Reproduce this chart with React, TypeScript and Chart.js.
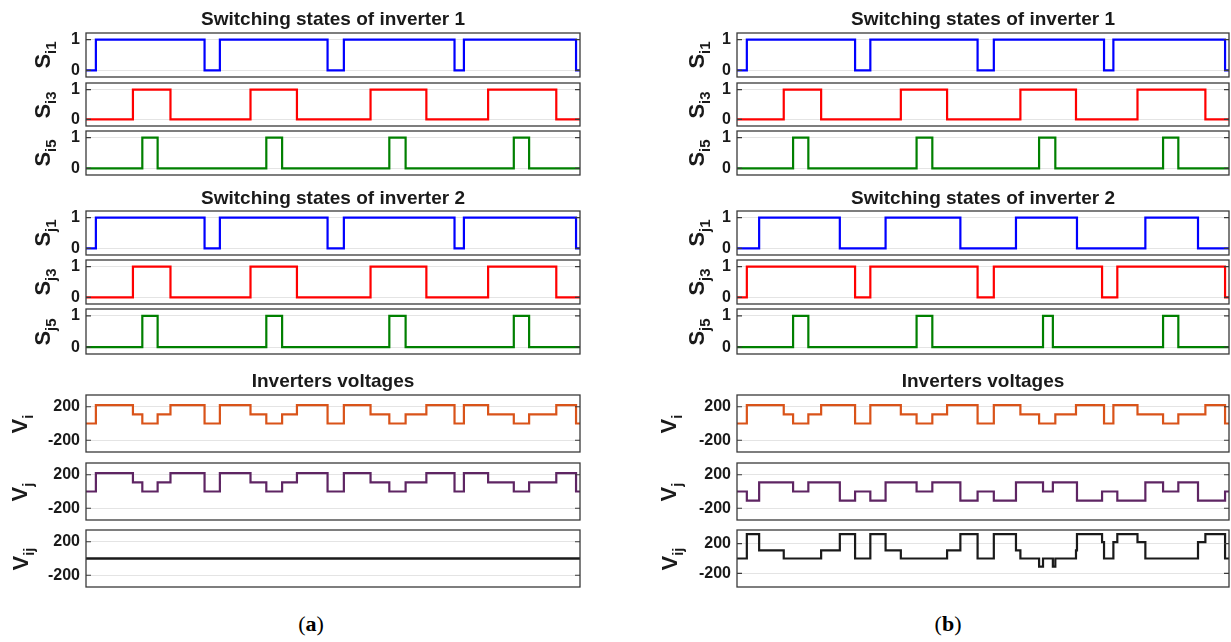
import React, { useEffect, useRef } from 'react';
import { Chart, registerables } from 'chart.js';

Chart.register(...registerables);

// ---------------- DATA (time in % of the displayed window) ----------------
const X_END = 100;

// Inverter 1 switching states (same in (a) and (b))
const tSi1 = [0, 2.0, 24.0, 27.1, 48.9, 52.2, 74.6, 76.5, 99.2];
const sSi1 = [0, 1, 0, 1, 0, 1, 0, 1, 0];
const tSi3 = [0, 9.5, 17.1, 33.3, 42.7, 57.6, 68.9, 81.4, 95.2];
const sSi3 = [0, 1, 0, 1, 0, 1, 0, 1, 0];
const tSi5 = [0, 11.4, 14.5, 36.5, 39.7, 61.4, 64.7, 86.6, 89.7];
const sSi5 = [0, 1, 0, 1, 0, 1, 0, 1, 0];

// Inverter 2 switching states, case (a)
const tSj1A = [0, 2.0, 24.0, 27.1, 48.9, 52.2, 74.6, 76.5, 99.2];
const sSj1A = [0, 1, 0, 1, 0, 1, 0, 1, 0];
const tSj3A = [0, 9.5, 17.1, 33.3, 42.7, 57.6, 68.9, 81.4, 95.2];
const sSj3A = [0, 1, 0, 1, 0, 1, 0, 1, 0];
const tSj5A = [0, 11.4, 14.5, 36.5, 39.7, 61.4, 64.7, 86.6, 89.7];
const sSj5A = [0, 1, 0, 1, 0, 1, 0, 1, 0];

// Inverter 2 switching states, case (b)
const tSj1B = [0, 4.5, 20.9, 30.2, 45.4, 56.7, 69.1, 83.0, 93.7];
const sSj1B = [0, 1, 0, 1, 0, 1, 0, 1, 0];
const tSj3B = [0, 2.0, 24.0, 27.1, 48.9, 52.2, 74.2, 77.3, 99.2];
const sSj3B = [0, 1, 0, 1, 0, 1, 0, 1, 0];
const tSj5B = [0, 11.4, 14.5, 36.5, 39.7, 62.2, 64.2, 86.6, 89.7];
const sSj5B = [0, 1, 0, 1, 0, 1, 0, 1, 0];

// Inverter 1 voltage (same in (a) and (b))
const tVi = [0, 2.0, 9.5, 11.4, 14.5, 17.1, 24.0, 27.1, 33.3, 36.5, 39.7, 42.7, 48.9, 52.2, 57.6, 61.4, 64.7, 68.9, 74.6, 76.5, 81.4, 86.6, 89.7, 95.2, 99.2];
const vVi = [0, 220, 110, 0, 110, 220, 0, 220, 110, 0, 110, 220, 0, 220, 110, 0, 110, 220, 0, 220, 110, 0, 110, 220, 0];

// Inverter 2 voltage, case (a)
const tVjA = [0, 2.0, 9.5, 11.4, 14.5, 17.1, 24.0, 27.1, 33.3, 36.5, 39.7, 42.7, 48.9, 52.2, 57.6, 61.4, 64.7, 68.9, 74.6, 76.5, 81.4, 86.6, 89.7, 95.2, 99.2];
const vVjA = [0, 220, 110, 0, 110, 220, 0, 220, 110, 0, 110, 220, 0, 220, 110, 0, 110, 220, 0, 220, 110, 0, 110, 220, 0];

// Inverter 2 voltage, case (b)
const tVjB = [0, 2.0, 4.5, 11.4, 14.5, 20.9, 24.0, 27.1, 30.2, 36.5, 39.7, 45.4, 48.9, 52.2, 56.7, 62.2, 64.2, 69.1, 74.2, 77.3, 83.0, 86.6, 89.7, 93.7, 99.2];
const vVjB = [0, -110, 110, 0, 110, -110, 0, -110, 110, 0, 110, -110, 0, -110, 110, 0, 110, -110, 0, -110, 110, 0, 110, -110, 0];

// Difference voltage
const tVijA = [0];
const vVijA = [0];
const tVijB = [0, 2.0, 4.5, 9.5, 17.1, 20.9, 24.0, 27.1, 30.2, 33.3, 42.7, 45.4, 48.9, 52.2, 56.7, 57.6, 61.4, 62.2, 64.2, 64.7, 68.9, 69.1, 74.2, 74.6, 76.5, 77.3, 81.4, 83.0, 93.7, 95.2, 99.2];
const vVijB = [0, 330, 110, 0, 110, 330, 0, 330, 110, 0, 110, 330, 0, 330, 110, 0, -110, 0, -110, 0, 110, 330, 220, 0, 220, 330, 220, 0, 220, 330, 0];

// Axis settings
const swRange = [-0.22, 1.22];
const swTicks = [0, 1];
const vRange = [-340, 340];
const vijRangeB = [-385, 385];
const vTicks = [-200, 200];

// Text
const title1 = 'Switching states of inverter 1';
const title2 = 'Switching states of inverter 2';
const title3 = 'Inverters voltages';

// ---------------- LAYOUT ----------------
const AXW = 70;
const PADT = 16;
const PADR = 4;
const COLS = { a: { l: 86, r: 580 }, b: { l: 737, r: 1229 } };
const ROWS = {
  s1: [33, 77], s3: [83, 126], s5: [131, 175],
  j1: [211, 255], j3: [260, 304], j5: [309, 354],
  vi: [395, 452], vj: [463, 520], vij: [530, 587],
};

const C_BLUE = '#0000ff';
const C_RED = '#ff0000';
const C_GREEN = '#008000';
const C_VI = '#d95319';
const C_VJ = '#5e2563';
const C_VIJ = '#1a1a1a';
const FONT = '"Liberation Sans", Arial, Helvetica, sans-serif';

function steps(t: number[], v: number[]) {
  const pts = t.map((x, i) => ({ x, y: v[i] }));
  pts.push({ x: X_END, y: v[v.length - 1] });
  return pts;
}

const framePlugin = {
  id: 'matlabFrame',
  afterDraw(chart: any) {
    const { ctx, chartArea: a, scales } = chart;
    const y = scales.y;
    ctx.save();
    ctx.strokeStyle = '#3a3a3a';
    ctx.lineWidth = 1.3;
    ctx.strokeRect(a.left, a.top, a.right - a.left, a.bottom - a.top);
    ctx.lineWidth = 1.2;
    ctx.beginPath();
    y.ticks.forEach((tk: any) => {
      const py = y.getPixelForValue(tk.value);
      ctx.moveTo(a.left, py);
      ctx.lineTo(a.left + 5, py);
      ctx.moveTo(a.right, py);
      ctx.lineTo(a.right - 5, py);
    });
    ctx.stroke();
    ctx.restore();
  },
};

type PanelProps = {
  col: 'a' | 'b';
  row: keyof typeof ROWS;
  t: number[];
  v: number[];
  color: string;
  range: number[];
  ticks: number[];
  width?: number;
};

function Panel({ col, row, t, v, color, range, ticks, width = 2.2 }: PanelProps) {
  const ref = useRef<HTMLCanvasElement | null>(null);
  const { l, r } = COLS[col];
  const [top, bottom] = ROWS[row];
  const cw = AXW + (r - l) + PADR;
  const ch = PADT * 2 + (bottom - top);
  useEffect(() => {
    if (!ref.current) return;
    const chart = new Chart(ref.current, {
      type: 'line',
      data: {
        datasets: [
          {
            data: steps(t, v),
            borderColor: color,
            borderWidth: width,
            pointRadius: 0,
            stepped: 'before',
            fill: false,
            tension: 0,
          } as any,
        ],
      },
      options: {
        responsive: false,
        animation: false,
        events: [],
        layout: { padding: { left: 0, right: PADR, top: PADT, bottom: PADT } },
        plugins: { legend: { display: false }, tooltip: { enabled: false } },
        scales: {
          x: { type: 'linear', min: 0, max: X_END, display: false },
          y: {
            type: 'linear',
            min: range[0],
            max: range[1],
            afterBuildTicks: (ax: any) => {
              ax.ticks = ticks.map((value) => ({ value }));
            },
            afterFit: (ax: any) => {
              ax.width = AXW;
            },
            grid: { color: '#e4e4e4', lineWidth: 1, drawTicks: false },
            border: { display: false },
            ticks: {
              padding: 6,
              color: '#1a1a1a',
              font: { family: FONT, size: 16, weight: 'bold' },
              callback: (val: any) => String(val),
            },
          },
        },
      } as any,
      plugins: [framePlugin],
    });
    return () => chart.destroy();
  }, []);
  return (
    <canvas
      ref={ref}
      width={cw}
      height={ch}
      style={{ position: 'absolute', left: l - AXW, top: top - PADT, width: cw, height: ch }}
    />
  );
}

function YLabel({ x, row, main, sub }: { x: number; row: keyof typeof ROWS; main: string; sub: string }) {
  const [top, bottom] = ROWS[row];
  const cy = (top + bottom) / 2;
  return (
    <div
      style={{
        position: 'absolute',
        left: x,
        top: cy,
        transform: 'translate(-50%, -50%) rotate(-90deg)',
        whiteSpace: 'nowrap',
        fontFamily: FONT,
        fontWeight: 'bold',
        fontSize: 22,
        color: '#1a1a1a',
        lineHeight: '22px',
        zIndex: 2,
      }}
    >
      {main}
      <sub style={{ fontSize: 15 }}>{sub}</sub>
    </div>
  );
}

function Title({ cx, cy, text }: { cx: number; cy: number; text: string }) {
  return (
    <div
      style={{
        position: 'absolute',
        left: cx,
        top: cy,
        transform: 'translate(-50%, -50%)',
        whiteSpace: 'nowrap',
        fontFamily: FONT,
        fontWeight: 'bold',
        fontSize: 19,
        color: '#1a1a1a',
        zIndex: 2,
      }}
    >
      {text}
    </div>
  );
}

function Caption({ cx, cy, letter }: { cx: number; cy: number; letter: string }) {
  return (
    <div
      style={{
        position: 'absolute',
        left: cx,
        top: cy,
        transform: 'translate(-50%, -50%)',
        whiteSpace: 'nowrap',
        fontFamily: '"Liberation Serif", "DejaVu Serif", serif',
        fontSize: 22,
        color: '#000',
        zIndex: 2,
      }}
    >
      (<b>{letter}</b>)
    </div>
  );
}

export default function App() {
  const acx = (COLS.a.l + COLS.a.r) / 2;
  const bcx = (COLS.b.l + COLS.b.r) / 2;
  return (
    <div
      style={{
        position: 'absolute',
        left: 0,
        top: 0,
        width: 1231,
        height: 642,
        background: '#ffffff',
        overflow: 'hidden',
      }}
    >
      {/* column (a) */}
      <Panel col="a" row="s1" t={tSi1} v={sSi1} color={C_BLUE} range={swRange} ticks={swTicks} />
      <Panel col="a" row="s3" t={tSi3} v={sSi3} color={C_RED} range={swRange} ticks={swTicks} />
      <Panel col="a" row="s5" t={tSi5} v={sSi5} color={C_GREEN} range={swRange} ticks={swTicks} />
      <Panel col="a" row="j1" t={tSj1A} v={sSj1A} color={C_BLUE} range={swRange} ticks={swTicks} />
      <Panel col="a" row="j3" t={tSj3A} v={sSj3A} color={C_RED} range={swRange} ticks={swTicks} />
      <Panel col="a" row="j5" t={tSj5A} v={sSj5A} color={C_GREEN} range={swRange} ticks={swTicks} />
      <Panel col="a" row="vi" t={tVi} v={vVi} color={C_VI} range={vRange} ticks={vTicks} />
      <Panel col="a" row="vj" t={tVjA} v={vVjA} color={C_VJ} range={vRange} ticks={vTicks} />
      <Panel col="a" row="vij" t={tVijA} v={vVijA} color={C_VIJ} range={vRange} ticks={vTicks} width={2.6} />
      {/* column (b) */}
      <Panel col="b" row="s1" t={tSi1} v={sSi1} color={C_BLUE} range={swRange} ticks={swTicks} />
      <Panel col="b" row="s3" t={tSi3} v={sSi3} color={C_RED} range={swRange} ticks={swTicks} />
      <Panel col="b" row="s5" t={tSi5} v={sSi5} color={C_GREEN} range={swRange} ticks={swTicks} />
      <Panel col="b" row="j1" t={tSj1B} v={sSj1B} color={C_BLUE} range={swRange} ticks={swTicks} />
      <Panel col="b" row="j3" t={tSj3B} v={sSj3B} color={C_RED} range={swRange} ticks={swTicks} />
      <Panel col="b" row="j5" t={tSj5B} v={sSj5B} color={C_GREEN} range={swRange} ticks={swTicks} />
      <Panel col="b" row="vi" t={tVi} v={vVi} color={C_VI} range={vRange} ticks={vTicks} />
      <Panel col="b" row="vj" t={tVjB} v={vVjB} color={C_VJ} range={vRange} ticks={vTicks} />
      <Panel col="b" row="vij" t={tVijB} v={vVijB} color={C_VIJ} range={vijRangeB} ticks={vTicks} />

      {/* y labels (a) */}
      <YLabel x={47} row="s1" main="S" sub="i1" />
      <YLabel x={47} row="s3" main="S" sub="i3" />
      <YLabel x={47} row="s5" main="S" sub="i5" />
      <YLabel x={47} row="j1" main="S" sub="j1" />
      <YLabel x={47} row="j3" main="S" sub="j3" />
      <YLabel x={47} row="j5" main="S" sub="j5" />
      <YLabel x={24} row="vi" main="V" sub="i" />
      <YLabel x={24} row="vj" main="V" sub="j" />
      <YLabel x={25} row="vij" main="V" sub="ij" />
      {/* y labels (b) */}
      <YLabel x={701} row="s1" main="S" sub="i1" />
      <YLabel x={701} row="s3" main="S" sub="i3" />
      <YLabel x={701} row="s5" main="S" sub="i5" />
      <YLabel x={701} row="j1" main="S" sub="j1" />
      <YLabel x={701} row="j3" main="S" sub="j3" />
      <YLabel x={701} row="j5" main="S" sub="j5" />
      <YLabel x={673} row="vi" main="V" sub="i" />
      <YLabel x={673} row="vj" main="V" sub="j" />
      <YLabel x={674} row="vij" main="V" sub="ij" />

      {/* titles */}
      <Title cx={acx} cy={19} text={title1} />
      <Title cx={acx} cy={198} text={title2} />
      <Title cx={acx} cy={381} text={title3} />
      <Title cx={bcx} cy={19} text={title1} />
      <Title cx={bcx} cy={198} text={title2} />
      <Title cx={bcx} cy={381} text={title3} />

      <Caption cx={311} cy={624} letter="a" />
      <Caption cx={948} cy={624} letter="b" />
    </div>
  );
}
